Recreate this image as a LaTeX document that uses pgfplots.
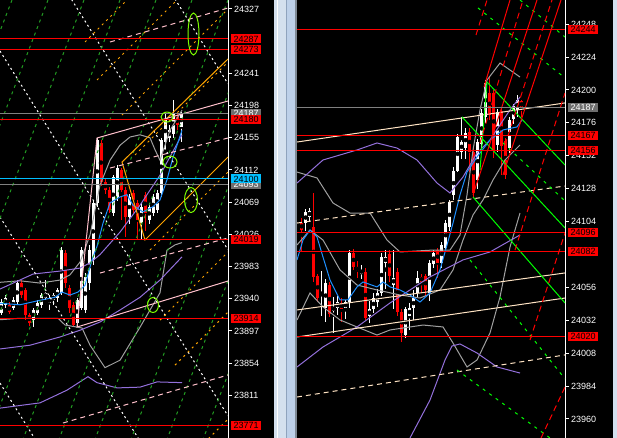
\documentclass[border=0pt]{standalone}
\usepackage{fontspec}
\setmainfont{Liberation Sans}
\usepackage{pgfplots}
\pgfplotsset{compat=1.18}
\usepackage{pgfplotstable}

\definecolor{mtblue}{HTML}{1E90FF}
\definecolor{mtpurple}{HTML}{9370DB}
\definecolor{mtgray}{HTML}{A0A0A0}
\definecolor{mtpink}{HTML}{FFC0CB}
\definecolor{mtorange}{HTML}{FFA500}
\definecolor{mtgreen}{HTML}{229B22}
\definecolor{mtlime}{HTML}{00FF00}
\definecolor{mtlawn}{HTML}{7CFC00}
\definecolor{mtwheat}{HTML}{FFE4C4}
\definecolor{mtcyan}{HTML}{00BFFF}
\definecolor{mthline}{HTML}{808080}
\definecolor{mtbox}{HTML}{6E6E6E}
\definecolor{sepA}{HTML}{D4E0EE}
\definecolor{sepB}{HTML}{BDD0E9}
\definecolor{sepC}{HTML}{8FA3BD}
\definecolor{sepD}{HTML}{7F8A96}

% candles: x open high low close
\pgfplotstableread{
x o h l c
1 23921 23940 23918 23936
5 23932 23945 23928 23941
9 23932 23936 23920 23922
13 23928 23942 23925 23938
17 23936 23965 23932 23961
21 23961 23965 23941 23945
25 23952 23954 23912 23918
29 23918 23921 23904 23908
33 23912 23928 23902 23925
37 23921 23938 23918 23934
41 23932 23948 23928 23945
45 23941 23965 23938 23948
49 23934 23945 23925 23941
53 23938 23948 23932 23945
57 23941 23954 23936 23952
61 23948 24009 23945 24005
65 24001 24005 23954 23961
69 23954 23958 23921 23928
73 23932 23936 23902 23905
77 23908 23941 23902 23938
81 23928 24009 23925 24005
85 23925 23975 23921 23969
89 23961 24012 23952 24005
93 23992 24072 23985 24068
97 24068 24155 24063 24152
101 24148 24152 24090 24096
105 24096 24100 24080 24085
109 24085 24090 24055 24059
113 24055 24106 24050 24103
117 24076 24118 24070 24115
121 24112 24115 24045 24085
125 24085 24090 24023 24049
129 24049 24080 24040 24076
133 24081 24085 24055 24059
137 24068 24072 24019 24045
141 24041 24068 24019 24063
145 24079 24083 24030 24055
149 24045 24068 24040 24063
153 24055 24080 24050 24076
157 24059 24085 24055 24081
161 24081 24155 24076 24152
165 24149 24190 24140 24179
169 24155 24172 24150 24165
173 24160 24205 24155 24188
177 24183 24188 24165 24172
181 24170 24190 24150 24187
}\leftbars

\pgfplotstableread{
x o h l c
4.7 24103 24107 24082 24098
8.7 24103 24113 24097 24111
12.7 24107 24114 24104 24112
16.7 24100 24125 24060 24064
20.7 24064 24066 24045 24048
24.7 24050 24068 24035 24052
28.7 24041 24062 24031 24059
32.7 24058 24060 24034 24037
36.7 24039 24049 24023 24042
40.7 24041 24050 24036 24045
44.7 24045 24048 24031 24040
48.7 24041 24047 24033 24045
52.7 24045 24083 24041 24081
56.7 24081 24084 24069 24071
60.7 24071 24075 24063 24068
64.7 24066 24072 24062 24069
68.7 24067 24070 24032 24034
72.7 24035 24046 24030 24040
76.7 24040 24052 24037 24048
80.7 24045 24055 24042 24052
84.7 24052 24081 24050 24078
88.7 24074 24083 24055 24078
92.7 24080 24083 24060 24064
96.7 24058 24083 24040 24063
100.7 24067 24070 24035 24038
104.7 24038 24040 24016 24023
108.7 24021 24042 24019 24040
112.7 24035 24045 24025 24041
116.7 24041 24054 24032 24048
120.7 24052 24068 24048 24063
124.7 24064 24066 24052 24060
128.7 24064 24066 24050 24054
132.7 24052 24076 24046 24074
136.7 24073 24083 24070 24081
140.7 24083 24085 24063 24074
144.7 24074 24089 24070 24087
148.7 24085 24105 24083 24103
152.7 24100 24120 24097 24118
156.7 24123 24144 24120 24141
160.7 24141 24168 24140 24166
164.7 24155 24180 24150 24162
168.7 24158 24172 24150 24169
172.7 24169 24172 24140 24155
176.7 24155 24158 24122 24125
180.7 24134 24164 24128 24162
184.7 24161 24186 24155 24183
188.7 24180 24207 24176 24205
192.7 24198 24210 24178 24182
196.7 24198 24200 24150 24156
200.7 24160 24186 24155 24184
204.7 24185 24187 24138 24159
208.7 24163 24165 24135 24138
212.7 24158 24180 24154 24178
216.7 24179 24190 24175 24188
220.7 24185 24196 24180 24193
224.7 24192 24193 24180 24187
}\rightbars

% white up candles, red down candles
\newcommand\candles[1]{%
  \addplot[only marks, mark=none, forget plot,
    restrict expr to domain={\thisrow{c}-\thisrow{o}}{0:100000},
    error bars/.cd, y dir=both, y explicit, error mark=none,
    error bar style={draw=white, line width=1pt}]
    table[x=x, y expr={(\thisrow{h}+\thisrow{l})/2},
      y error expr={(\thisrow{h}-\thisrow{l})/2}] {#1};
  \addplot[only marks, mark=none, forget plot,
    restrict expr to domain={\thisrow{c}-\thisrow{o}}{0:100000},
    error bars/.cd, y dir=both, y explicit, error mark=none,
    error bar style={draw=white, line width=3pt}]
    table[x=x, y expr={(\thisrow{o}+\thisrow{c})/2},
      y error expr={max(abs(\thisrow{c}-\thisrow{o})/2,0.5)}] {#1};
  \addplot[only marks, mark=none, forget plot,
    restrict expr to domain={\thisrow{o}-\thisrow{c}}{0.001:100000},
    error bars/.cd, y dir=both, y explicit, error mark=none,
    error bar style={draw=red, line width=1pt}]
    table[x=x, y expr={(\thisrow{h}+\thisrow{l})/2},
      y error expr={(\thisrow{h}-\thisrow{l})/2}] {#1};
  \addplot[only marks, mark=none, forget plot,
    restrict expr to domain={\thisrow{o}-\thisrow{c}}{0.001:100000},
    error bars/.cd, y dir=both, y explicit, error mark=none,
    error bar style={draw=red, line width=3pt}]
    table[x=x, y expr={(\thisrow{o}+\thisrow{c})/2},
      y error expr={max(abs(\thisrow{c}-\thisrow{o})/2,0.5)}] {#1};
}

\pgfplotsset{
  mtaxis/.style={
    anchor=south west, height=438pt, scale only axis,
    xmin=0,
    axis x line=none, axis y line=right,
    axis line style={white, line width=1pt, -},
    xtick=\empty,
    tick align=outside, major tick length=4pt,
    ytick style={white, line width=1pt},
    yticklabel style={text=white, font=\fontsize{9}{9}\selectfont, xshift=-1.5pt},
    /pgf/number format/1000 sep={},
    /pgf/number format/assume math mode=true,
    scaled y ticks=false,
    clip mode=individual,
  },
  wdot/.style={white, line width=1pt, dash pattern=on 2pt off 3pt},
  gdash/.style={mtgreen, line width=1pt, dash pattern=on 3pt off 4pt},
  odash/.style={mtorange, line width=1pt, dash pattern=on 2pt off 4pt},
  pdash/.style={mtpink, line width=1pt, dash pattern=on 5pt off 4pt},
  ldash/.style={mtlime, line width=1pt, dash pattern=on 3pt off 5pt},
  rdash/.style={red, line width=1pt, dash pattern=on 6pt off 4pt},
  bdash/.style={mtwheat, line width=1pt, dash pattern=on 5pt off 4pt},
}
\tikzset{lbl/.style={anchor=west, xshift=3pt, inner xsep=2.5pt, inner ysep=0pt,
  minimum height=9pt, font=\fontsize{9}{9}\selectfont, text=black}}

\begin{document}
\begin{tikzpicture}
\useasboundingbox (0pt,0pt) rectangle (617pt,438pt);
\fill[black] (0pt,0pt) rectangle (617pt,438pt);
\fill[sepA] (274pt,0pt) rectangle (297pt,438pt);
\fill[white] (277pt,0pt) rectangle (278pt,438pt);
\fill[sepC] (286pt,0pt) rectangle (287pt,438pt);
\fill[sepB] (287pt,0pt) rectangle (295pt,438pt);
\fill[sepD] (295pt,0pt) rectangle (297pt,438pt);
\fill[sepA] (613pt,0pt) rectangle (617pt,438pt);

% ---------------- left chart ----------------
\begin{axis}[mtaxis, at={(0pt,0pt)}, width=228pt, xmax=228,
  ymin=23754.1, ymax=24339.0,
  ytick={23811,23854,23897,23940,23983,24026,24069,24112,24155,24198,24241,24327}]
\candles{\leftbars}
% bollinger bands
\addplot[mtgray, line width=1pt] coordinates {(0,23962) (20,23964) (40,23961) (60,23965) (70,23972) (80,23989) (90,24025) (100,24092) (110,24125) (120,24145) (130,24156) (140,24159) (150,24155) (155,24139) (160,24125) (165,24145) (170,24165) (182,24192)};
\addplot[mtgray, line width=1pt] coordinates {(0,23912) (20,23914) (43,23914) (58,23914) (65,23905) (82,23901) (90,23878) (105,23848) (120,23858) (140,23902) (160,23948) (167,24005) (175,24012) (182,24015)};
% moving averages
\addplot[mtpurple, line width=1pt] coordinates {(0,23953) (33,23973) (60,23977) (80,23981) (90,23988) (100,23999) (120,24029) (140,24065) (160,24105) (182,24159)};
\addplot[mtpurple, line width=1pt] coordinates {(0,23873) (30,23878) (60,23889) (80,23898) (100,23909) (120,23925) (140,23942) (160,23965) (182,23996)};
\addplot[mtpurple, line width=1pt] coordinates {(0,23794) (40,23801) (67,23818) (88,23836) (97,23828) (117,23821) (140,23822) (157,23829) (182,23828)};
\addplot[mtblue, line width=1pt] coordinates {(0,23934) (20,23932) (40,23938) (55,23942) (62,23949) (70,23945) (78,23949) (85,23958) (92,23992) (97,24010) (103,24041) (110,24068) (120,24076) (127,24079) (133,24065) (143,24056) (153,24063) (160,24072) (167,24099) (173,24129) (182,24165)};
% gann style white grid
\addplot[wdot] coordinates {(0,24714.3) (228,24227.1)};
\addplot[wdot] coordinates {(0,24492.6) (228,24005.4)};
\addplot[wdot] coordinates {(0,24270.9) (228,23783.7)};
\addplot[wdot] coordinates {(0,24049.2) (228,23562.0)};
\addplot[wdot] coordinates {(0,23827.5) (228,23340.3)};
% green fan
\addplot[gdash] coordinates {(12,24339) (-156.5,23754.1)};
\addplot[gdash] coordinates {(48,24339) (-120.5,23754.1)};
\addplot[gdash] coordinates {(84,24339) (-84.5,23754.1)};
\addplot[gdash] coordinates {(120,24339) (-48.5,23754.1)};
\addplot[gdash] coordinates {(156,24339) (-12.5,23754.1)};
\addplot[gdash] coordinates {(192,24339) (23.5,23754.1)};
\addplot[gdash] coordinates {(228,24339) (59.5,23754.1)};
\addplot[gdash] coordinates {(264,24339) (95.5,23754.1)};
\addplot[gdash] coordinates {(300,24339) (131.5,23754.1)};
\addplot[gdash] coordinates {(336,24339) (167.5,23754.1)};
\addplot[gdash] coordinates {(372,24339) (203.5,23754.1)};
% orange channel
\addplot[odash] coordinates {(85,24282.9) (228,24473.9)};
\addplot[odash] coordinates {(97,24232.2) (228,24407.1)};
\addplot[odash] coordinates {(122,24185.4) (228,24327.0)};
\addplot[odash] coordinates {(135,24132.0) (228,24256.2)};
\addplot[odash] coordinates {(150,24005.1) (228,24109.3)};
\addplot[odash] coordinates {(160,23911.6) (228,24002.5)};
\addplot[odash] coordinates {(175,23851.5) (228,23922.3)};
\addplot[odash] coordinates {(200,23742.0) (228,23779.4)};
\addplot[mtorange, line width=1pt] coordinates {(228,24260.2) (122,24122.6) (145,24018.5) (228,24129.3)};
% pink channel
\addplot[mtpink, line width=1pt] coordinates {(228,24204.1) (97,24154.7) (77,23902.3) (228,23963.7)};
\addplot[pdash] coordinates {(110,24282.9) (228,24328.3)};
\addplot[pdash] coordinates {(110,24114.6) (228,24154.7)};
\addplot[pdash] coordinates {(100,23974.4) (228,24021.2)};
\addplot[pdash] coordinates {(63,23774.1) (228,23838.2)};
% price levels
\addplot[red, line width=1pt] coordinates {(0,24287) (228,24287)};
\addplot[red, line width=1pt] coordinates {(0,24273) (228,24273)};
\addplot[mthline, line width=1pt] coordinates {(0,24187) (228,24187)};
\addplot[red, line width=1pt] coordinates {(0,24180) (228,24180)};
\addplot[mtcyan, line width=1pt] coordinates {(0,24100) (228,24100)};
\addplot[mthline, line width=1pt] coordinates {(0,24093) (228,24093)};
\addplot[red, line width=1pt] coordinates {(0,24019) (228,24019)};
\addplot[red, line width=1pt] coordinates {(0,23914) (228,23914)};
\addplot[red, line width=1pt] coordinates {(0,23771) (228,23771)};
% marked spots
\draw[mtlawn, line width=1pt] (axis cs:193.5,24293.6) ellipse [x radius=5.5pt, y radius=21pt];
\draw[mtlawn, line width=1pt] (axis cs:167,24182.7) ellipse [x radius=6pt, y radius=5pt];
\draw[mtlawn, line width=1pt] (axis cs:170,24122.6) ellipse [x radius=7pt, y radius=6pt];
\draw[mtlawn, line width=1pt] (axis cs:191,24071.9) ellipse [x radius=6.5pt, y radius=12.5pt];
\draw[mtlawn, line width=1pt] (axis cs:153,23931.7) ellipse [x radius=5.5pt, y radius=7.5pt];
\coordinate (a1) at (axis cs:228,24287);
\coordinate (a2) at (axis cs:228,24273);
\coordinate (a3) at (axis cs:228,24187);
\coordinate (a4) at (axis cs:228,24180);
\coordinate (a5) at (axis cs:228,24093);
\coordinate (a6) at (axis cs:228,24100);
\coordinate (a7) at (axis cs:228,24019);
\coordinate (a8) at (axis cs:228,23914);
\coordinate (a9) at (axis cs:228,23771);
\end{axis}

% ---------------- right chart ----------------
\begin{axis}[mtaxis, at={(297pt,0pt)}, width=268pt, xmax=268,
  ymin=23946.1, ymax=24265.6,
  ytick={23960,23984,24008,24032,24056,24104,24128,24152,24176,24200,24224,24248}]
\candles{\rightbars}
\addplot[mtgray, line width=1pt] coordinates {(0,24140.1) (20,24135.8) (36,24117.5) (53,24110.2) (73,24110.2) (90,24090.5) (103,24081.8) (136,24083.2) (153,24083.2) (163,24094.2) (170,24123.4) (176,24156.2) (183,24185.4) (190,24207.2) (203,24219.6) (213,24214.5) (223,24209.4)};
\addplot[mtgray, line width=1pt] coordinates {(0,24086.9) (13,24097.8) (26,24090.5) (43,24068.7) (60,24057.7) (80,24054.1) (103,24050.4) (123,24048.2) (143,24054.1) (156,24068.7) (166,24090.5) (176,24108.8) (186,24119.8) (196,24134.3) (208,24148.9) (223,24159.8)};
\addplot[mtgray, line width=1pt] coordinates {(0,24032.2) (13,24051.9) (26,24041.7) (43,24032.2) (60,24027.1) (80,24021.2) (93,24024.9) (126,24028.5) (146,24027.1) (156,24015.4) (170,23997.9) (180,24003.0) (193,24022.7) (203,24049.0) (213,24085.4) (223,24110.2)};
\addplot[mtpurple, line width=1pt] coordinates {(0,24132.1) (26,24148.9) (60,24156.2) (80,24161.3) (100,24157.6) (120,24148.9) (140,24132.1) (153,24124.8) (166,24136.5) (180,24154.0) (193,24163.5) (213,24185.4) (223,24194.8)};
\addplot[mtpurple, line width=1pt] coordinates {(0,23997.9) (26,24012.5) (60,24027.1) (93,24044.6) (133,24063.6) (166,24076.0) (193,24081.8) (223,24094.2)};
\addplot[mtpurple, line width=1pt] coordinates {(113,23946.1) (133,23973.8) (148,24003.0) (155,24013.2) (163,24014.7) (180,24008.1) (200,23997.9) (223,23993.5)};
\addplot[mtblue, line width=1pt] coordinates {(0,24076) (6,24090.5) (13,24097.8) (20,24092.7) (26,24078.1) (33,24061.4) (43,24046.8) (51,24046.8) (60,24056.3) (66,24059.9) (80,24056.3) (86,24059.9) (93,24056.3) (103,24054.1) (113,24050.4) (123,24045.3) (133,24051.9) (143,24068.7) (150,24086.9) (156,24102.9) (163,24123.4) (170,24140.1) (180,24151.1) (193,24163.5) (206,24170.8) (220,24173.0) (225,24178.1)};
% trend channel
\addplot[mtwheat, line width=1pt] coordinates {(0,24162.0) (268,24190.5)};
\addplot[mtwheat, line width=1pt] coordinates {(0,24039.5) (268,24066.5)};
\addplot[mtwheat, line width=1pt] coordinates {(0,24019.8) (268,24048.2)};
\addplot[bdash] coordinates {(0,24102.9) (268,24129.9)};
\addplot[bdash] coordinates {(0,23976.0) (268,24006.7)};
% lime pitchfork
\addplot[mtlime, line width=1pt] coordinates {(183,24141.6) (190,24205.8)};
\addplot[mtlime, line width=1pt] coordinates {(165,24180.3) (268,24099.3)};
\addplot[mtlime, line width=1pt] coordinates {(190,24205.8) (268,24145.2)};
\addplot[mtlime, line width=1pt] coordinates {(176,24121.9) (268,24044.6)};
\addplot[ldash] coordinates {(181,24259.8) (268,24208.7)};
\addplot[ldash] coordinates {(223,24265.6) (268,24238.6)};
\addplot[ldash] coordinates {(206,24161.3) (268,24119.0)};
\addplot[ldash] coordinates {(173,24076.0) (268,23989.2)};
\addplot[ldash] coordinates {(160,23995.7) (253,23946.1)};
% red fan
\addplot[red, line width=1pt] coordinates {(187,24202.1) (213,24265.6)};
\addplot[red, line width=1pt] coordinates {(176,24123.4) (240,24265.6)};
\addplot[red, line width=1pt] coordinates {(206,24138.0) (264,24265.6)};
\addplot[rdash] coordinates {(179,24240.1) (190,24265.6)};
\addplot[rdash] coordinates {(183,24161.3) (226,24265.6)};
\addplot[rdash] coordinates {(208,24159.8) (255,24265.6)};
\addplot[rdash] coordinates {(218,24083.2) (268,24197.8)};
\addplot[rdash] coordinates {(233,24017.6) (268,24095.6)};
\addplot[rdash] coordinates {(244,23946.1) (268,23983.3)};
% price levels
\addplot[red, line width=1pt] coordinates {(0,24244) (268,24244)};
\addplot[mthline, line width=1pt] coordinates {(0,24187) (268,24187)};
\addplot[red, line width=1pt] coordinates {(0,24167) (268,24167)};
\addplot[red, line width=1pt] coordinates {(0,24156) (268,24156)};
\addplot[red, line width=1pt] coordinates {(0,24096) (268,24096)};
\addplot[red, line width=1pt] coordinates {(0,24082) (268,24082)};
\addplot[red, line width=1pt] coordinates {(0,24020) (268,24020)};
\coordinate (b1) at (axis cs:268,24244);
\coordinate (b2) at (axis cs:268,24187);
\coordinate (b3) at (axis cs:268,24167);
\coordinate (b4) at (axis cs:268,24156);
\coordinate (b5) at (axis cs:268,24096);
\coordinate (b6) at (axis cs:268,24082);
\coordinate (b7) at (axis cs:268,24020);
\end{axis}

% price tags
\node[lbl, fill=red] at (a1) {24287};
\node[lbl, fill=red] at (a2) {24273};
\node[lbl, fill=mtbox, text=white] at (a3) {24187};
\node[lbl, fill=red] at (a4) {24180};
\node[lbl, fill=mtbox, text=white] at (a5) {24093};
\node[lbl, fill=mtcyan] at (a6) {24100};
\node[lbl, fill=red] at (a7) {24019};
\node[lbl, fill=red] at (a8) {23914};
\node[lbl, fill=red] at (a9) {23771};
\node[lbl, fill=red] at (b1) {24244};
\node[lbl, fill=mtbox, text=white] at (b2) {24187};
\node[lbl, fill=red] at (b3) {24167};
\node[lbl, fill=red] at (b4) {24156};
\node[lbl, fill=red] at (b5) {24096};
\node[lbl, fill=red] at (b6) {24082};
\node[lbl, fill=red] at (b7) {24020};
\end{tikzpicture}
\end{document}
